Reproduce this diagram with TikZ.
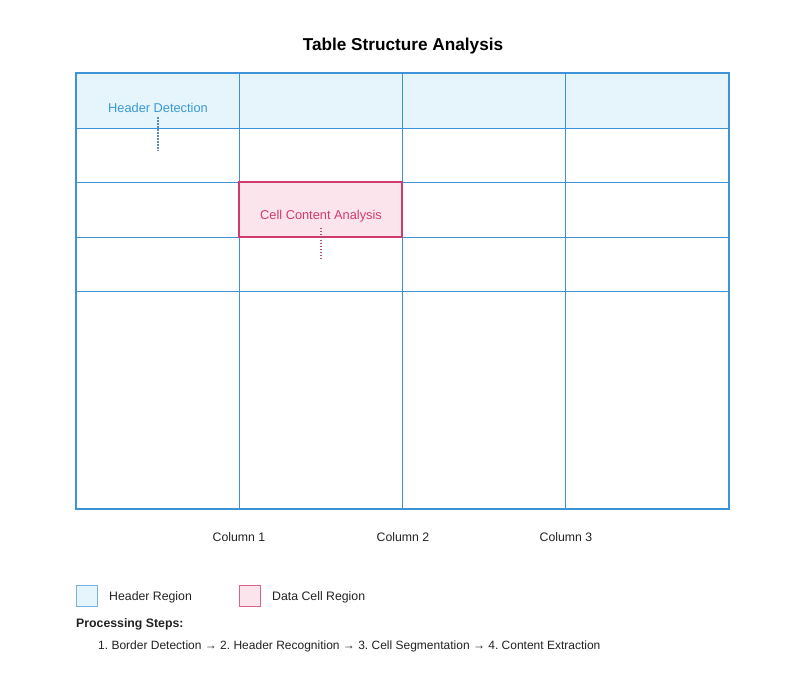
\documentclass[tikz,border=0pt]{standalone}
\usepackage{fontspec}
\setmainfont{Liberation Sans}
\usetikzlibrary{calc}
\definecolor{gridblue}{HTML}{3D93D6}
\definecolor{headfill}{HTML}{E6F4FC}
\definecolor{headtext}{HTML}{3A9AD4}
\definecolor{cellred}{HTML}{CF3B6E}
\definecolor{cellfill}{HTML}{FCE4EC}
\definecolor{txtgray}{HTML}{222222}
\frenchspacing
\tikzset{
  lbl/.style={font=\fontsize{12.3}{14}\selectfont, text=txtgray, inner sep=0pt},
  note/.style={font=\fontsize{12.8}{15}\selectfont, inner sep=0pt},
  guide/.style={line width=1.2pt, dash pattern=on 1.2pt off 1.8pt},
  swatch/.style={line width=1pt, minimum width=21pt, minimum height=21pt, inner sep=0pt}
}

\begin{document}
\begin{tikzpicture}[x=1pt,y=-1pt]
			%%%%% START %%%%%
			\useasboundingbox (0,0) rectangle (800,688);
			
			\node[font=\bfseries\fontsize{17.2}{20}\selectfont, inner sep=0pt] (title) at (403,46) {Table Structure Analysis};
			
			\fill[headfill] (76,73) rectangle (729,128);
			\fill[cellfill] (239,182) rectangle (402,237);
			
			\foreach \gx in {239,402,565}
				\draw[line width=1pt, color=gridblue] (\gx,73) -- (\gx,509);
			\foreach \gy in {128,182,237,291}
				\draw[line width=1pt, color=gridblue] (76,\gy) -- (729,\gy);
			\draw[line width=1.3pt, color=cellred] (239,182) rectangle (402,237);
			\draw[line width=2.2pt, color=gridblue] (76,73) rectangle (729,509);
			
			\node[note, text=headtext] (headdet) at (158,107.5) {Header Detection};
			\coordinate (headend) at (158,151);
			\draw[guide, color=headtext!60!gray] ($(headdet.south)+(0,5)$) -- (headend);
			
			\node[note, text=cellred] (cellana) at (321,216.5) {Cell Content Analysis};
			\coordinate (cellend) at (321,259);
			\draw[guide, color=cellred!65!gray] ($(cellana.south)+(0,5)$) -- (cellend);
			
			\node[lbl] (col1) at (239,537) {Column 1};
			\node[lbl] (col2) at (403,537) {Column 2};
			\node[lbl] (col3) at (566,537) {Column 3};
			
			\node[swatch, draw=gridblue!70, fill=headfill] (keyhead) at (87,596) {};
			\node[lbl, anchor=west] (keyheadtxt) at (109,597) {Header Region};
			\node[swatch, draw=cellred!80, fill=cellfill] (keycell) at (250,596) {};
			\node[lbl, anchor=west] (keycelltxt) at (272,597) {Data Cell Region};
			
			\node[lbl, anchor=west, font=\bfseries\fontsize{12.3}{14}\selectfont] (steps) at (76,624) {Processing Steps:};
			\node[lbl, anchor=west, font=\fontsize{12}{14}\selectfont] (steplist) at (98,646) {1. Border Detection → 2. Header Recognition → 3. Cell Segmentation → 4. Content Extraction};
			
			%%%%% END %%%%%
		\end{tikzpicture}
\end{document}
